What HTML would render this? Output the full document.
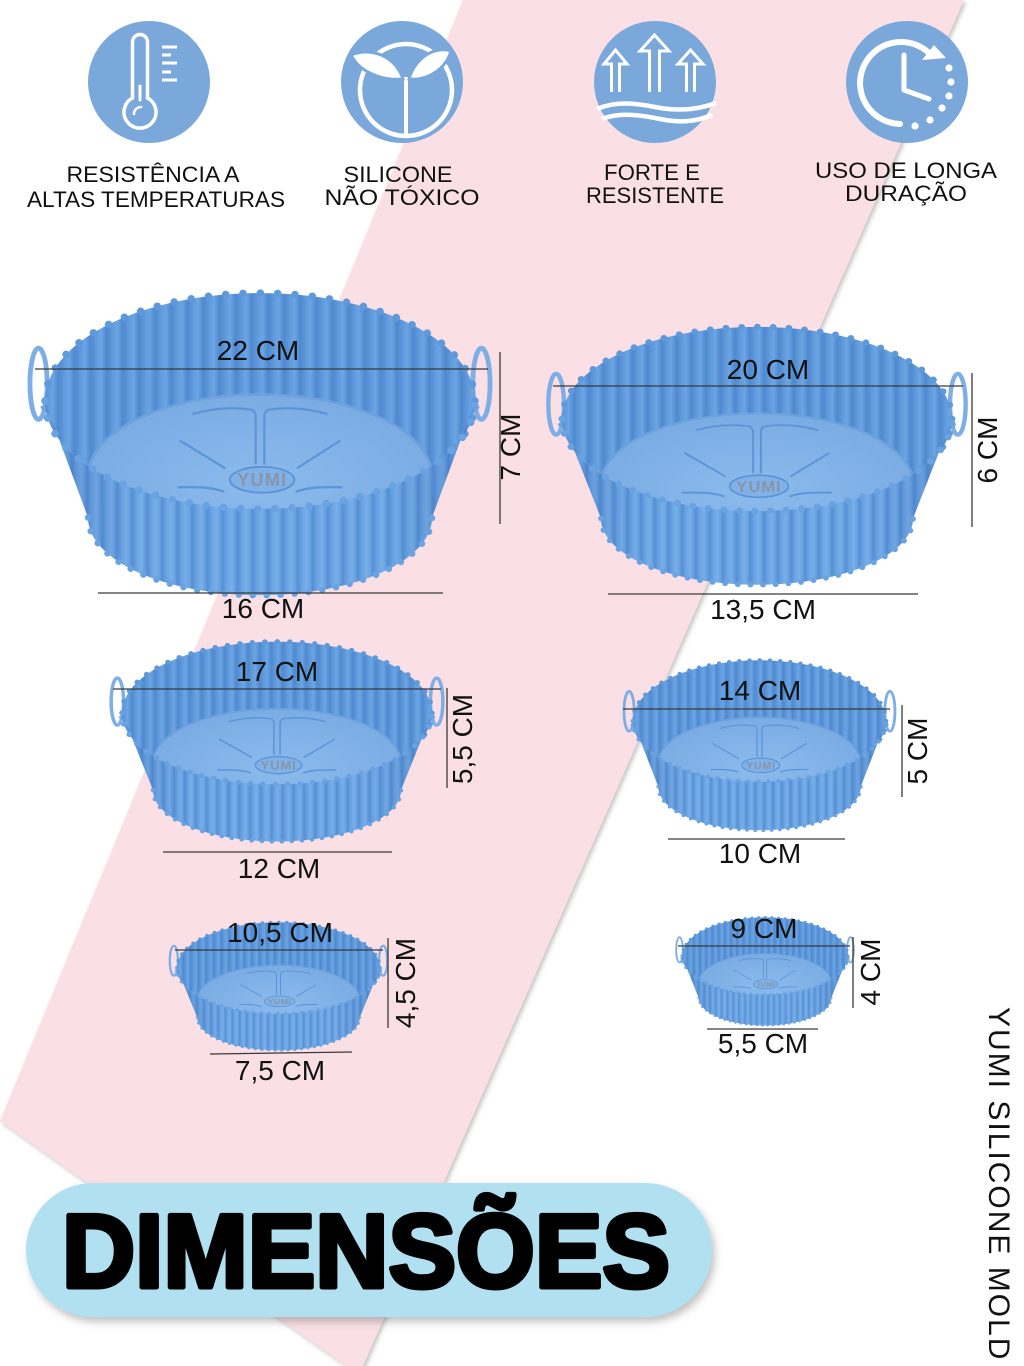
<!DOCTYPE html>
<html>
<head>
<meta charset="utf-8">
<style>
html,body{margin:0;padding:0;background:#fff;}
svg{display:block;}
</style>
</head>
<body>
<svg width="1024" height="1366" viewBox="0 0 1024 1366" xmlns="http://www.w3.org/2000/svg" font-family="'Liberation Sans', sans-serif">
<defs>
  <filter id="sh" x="-10%" y="-5%" width="120%" height="110%">
    <feDropShadow dx="2" dy="2" stdDeviation="2.5" flood-color="#777" flood-opacity="0.45"/>
  </filter>
  <filter id="psh" x="-10%" y="-20%" width="120%" height="150%">
    <feDropShadow dx="3" dy="5" stdDeviation="4" flood-color="#666" flood-opacity="0.4"/>
  </filter>
  <linearGradient id="fg" x1="0" x2="1" y1="0" y2="0">
    <stop offset="0" stop-color="#558fd5"/>
    <stop offset="0.3" stop-color="#6ba4e2"/>
    <stop offset="0.6" stop-color="#79afe9"/>
    <stop offset="0.85" stop-color="#67a1e0"/>
    <stop offset="1" stop-color="#558fd5"/>
  </linearGradient>
  <linearGradient id="bg" x1="0" x2="1" y1="0" y2="0">
    <stop offset="0" stop-color="#4e88cf"/>
    <stop offset="0.35" stop-color="#609adb"/>
    <stop offset="0.65" stop-color="#6ba5e3"/>
    <stop offset="1" stop-color="#4e88cf"/>
  </linearGradient>
  <pattern id="pf" patternUnits="userSpaceOnUse" x="-7" y="-200" width="14" height="500">
    <rect width="14" height="500" fill="url(#fg)"/>
  </pattern>
  <pattern id="pb" patternUnits="userSpaceOnUse" x="-7.5" y="-200" width="15" height="500">
    <rect width="15" height="500" fill="url(#bg)"/>
  </pattern>
  <radialGradient id="floorg" cx="0.5" cy="0.55" r="0.6">
    <stop offset="0" stop-color="#8cbaec"/>
    <stop offset="1" stop-color="#78abe3"/>
  </radialGradient>
  <linearGradient id="shade" x1="0" x2="1" y1="0" y2="0">
    <stop offset="0" stop-color="#1d4f9a" stop-opacity="0.25"/>
    <stop offset="0.22" stop-color="#1d4f9a" stop-opacity="0"/>
    <stop offset="0.78" stop-color="#1d4f9a" stop-opacity="0"/>
    <stop offset="1" stop-color="#1d4f9a" stop-opacity="0.25"/>
  </linearGradient>
  <clipPath id="rimclip"><ellipse cx="0" cy="0" rx="200" ry="100"/></clipPath>

  <g id="cup">
    <!-- handles -->
    <ellipse cx="-206" cy="-16" rx="8" ry="33" fill="none" stroke="#7eaee6" stroke-width="4.5"/>
    <ellipse cx="206" cy="-16" rx="8" ry="33" fill="none" stroke="#7eaee6" stroke-width="4.5"/>
    <path d="M-203,8 L-192,2 M203,8 L192,2" stroke="#6ea6e3" stroke-width="6"/>
    <!-- back wall -->
    <ellipse cx="0" cy="0" rx="200" ry="100" fill="url(#pb)"/>
    <ellipse cx="0" cy="0" rx="200" ry="100" fill="none" stroke="#5f99da" stroke-width="7" stroke-dasharray="0 16.15" stroke-linecap="round"/>
    <!-- floor -->
    <g clip-path="url(#rimclip)">
      <ellipse cx="0" cy="70" rx="160" ry="76" fill="url(#floorg)" stroke="#6ea2dd" stroke-width="2.5"/>
      <g fill="none" stroke="#5c94d7" stroke-width="2" stroke-linecap="round">
        <path d="M-62,12 Q-35,4 -8,8 Q-4,10 -4,14 V58"/>
        <path d="M62,12 Q35,4 8,8 Q4,10 4,14 V58"/>
        <path d="M-74,37 L-33,62"/>
        <path d="M74,37 L35,62"/>
        <path d="M-76,80 Q-45,79 -34,84"/>
        <path d="M76,80 Q45,79 34,84"/>
      </g>
      <ellipse cx="2" cy="73" rx="30" ry="12" fill="#80b1e7" stroke="#5c94d7" stroke-width="1.8"/>
      <text x="2" y="79" text-anchor="middle" font-size="17" font-weight="bold" fill="#8796aa" letter-spacing="1">YUMI</text>
    </g>
    <!-- front wall -->
    <path d="M-200,0 L-160,108 A160,72 0 0 0 160,108 L200,0 A200,100 0 0 1 -200,0 Z" fill="url(#pf)"/>
    <path d="M-200,0 L-160,108 A160,72 0 0 0 160,108 L200,0 A200,100 0 0 1 -200,0 Z" fill="url(#shade)"/>
    <path d="M-200,0 A200,100 0 0 0 200,0" fill="none" stroke="#6aa3e2" stroke-width="7" stroke-dasharray="0 16" stroke-linecap="round"/>
    <path d="M-160,108 A160,72 0 0 0 160,108" fill="none" stroke="#6aa3e2" stroke-width="6" stroke-dasharray="0 13" stroke-linecap="round"/>
  </g>
</defs>

<rect width="1024" height="1366" fill="#fff"/>
<!-- pink diagonal band -->
<polygon points="463,0 964,0 359,1375 0,1121" fill="#fae0e5" filter="url(#sh)"/>

<!-- ICONS -->
<g>
  <circle cx="149" cy="82" r="61" fill="#7aa8da"/>
  <circle cx="402" cy="82" r="61" fill="#7aa8da"/>
  <circle cx="655" cy="82" r="61" fill="#7aa8da"/>
  <circle cx="907" cy="82" r="61" fill="#7aa8da"/>

  <!-- thermometer -->
  <g fill="none" stroke="#fff" stroke-width="3.5" stroke-linecap="round">
    <path d="M132.5,98 V42 A7.5,7.5 0 0 1 147.5,42 V98"/>
    <path d="M147.5,98 A16,16 0 1 1 132.5,98"/>
    <path d="M140,86 V100" stroke-width="3"/>
    <path d="M134,114 A7,7 0 0 1 141,107" stroke-width="2.5"/>
    <path d="M162,47 H177 M162,55 H171 M162,63 H177 M162,72 H171 M162,80 H177" stroke-width="3" stroke-linecap="butt"/>
  </g>

  <!-- sprout -->
  <g>
    <circle cx="406" cy="90" r="46" fill="none" stroke="#fff" stroke-width="4.5"/>
    <path d="M406,77 V136" stroke="#fff" stroke-width="4"/>
    <path d="M403,79 C395,55 370,47 351,55 C359,71 380,81 403,79 Z" fill="#fff" stroke="#7aa8da" stroke-width="3"/>
    <path d="M409,79 C416,56 436,46 451,51 C446,68 429,81 409,79 Z" fill="#fff" stroke="#7aa8da" stroke-width="3"/>
  </g>

  <!-- arrows -->
  <g fill="none" stroke="#fff" stroke-width="3" stroke-linejoin="miter">
    <polyline points="611.5,92 611.5,64 604,64 615.5,50 627,64 619.5,64 619.5,92"/>
    <polyline points="649.5,92 649.5,51 640,51 654.5,35 669,51 659.5,51 659.5,92"/>
    <polyline points="686.5,92 686.5,64 678,64 690.5,50 703,64 694.5,64 694.5,92"/>
    <path d="M597,109 C615,101 635,103 655,107 S695,111 716,103" stroke-width="4.5"/>
    <path d="M602,119 C620,112 640,115 660,119 S695,122 712,115" stroke-width="4.5"/>
  </g>

  <!-- clock -->
  <g fill="none" stroke="#fff" stroke-linecap="round" stroke-linejoin="round">
    <path d="M929,53 A41,41 0 1 0 900,124" stroke-width="6"/>
    <path d="M904,55 V90 L929,99" stroke-width="5"/>
  </g>
  <polygon points="934,45 946,58 922,60" fill="#fff"/>
  <g fill="#fff">
    <circle cx="915" cy="126" r="3.6"/>
    <circle cx="930" cy="120" r="3.6"/>
    <circle cx="942" cy="108" r="3.6"/>
    <circle cx="949" cy="96" r="3.6"/>
    <circle cx="951" cy="82" r="3.6"/>
    <circle cx="949" cy="68" r="3.6"/>
  </g>
</g>

<!-- ICON LABELS -->
<g font-size="22" fill="#111" text-anchor="middle">
  <text x="153" y="182" textLength="173" lengthAdjust="spacingAndGlyphs">RESISTÊNCIA A</text>
  <text x="156" y="207" textLength="258" lengthAdjust="spacingAndGlyphs">ALTAS TEMPERATURAS</text>
  <text x="398" y="182" textLength="109" lengthAdjust="spacingAndGlyphs">SILICONE</text>
  <text x="402" y="205" textLength="155" lengthAdjust="spacingAndGlyphs">NÃO TÓXICO</text>
  <text x="652" y="180" textLength="96" lengthAdjust="spacingAndGlyphs">FORTE E</text>
  <text x="655" y="203" textLength="138" lengthAdjust="spacingAndGlyphs">RESISTENTE</text>
  <text x="906" y="178" textLength="182" lengthAdjust="spacingAndGlyphs">USO DE LONGA</text>
  <text x="906" y="201" textLength="122" lengthAdjust="spacingAndGlyphs">DURAÇÃO</text>
</g>

<!-- CUPS -->
<use href="#cup" transform="translate(260,401) scale(1.075,1.079)"/>
<use href="#cup" transform="translate(757,419) scale(0.975,0.921)"/>
<use href="#cup" transform="translate(277,713) scale(0.775,0.714)"/>
<use href="#cup" transform="translate(278.5,968) scale(0.508,0.457)"/>
<use href="#cup" transform="translate(759.5,721) scale(0.633,0.607)"/>
<use href="#cup" transform="translate(765,956) scale(0.415,0.386)"/>

<!-- MEASUREMENT LINES -->
<g stroke="#3a3a3a" stroke-width="1.3">
  <line x1="35" y1="369" x2="488" y2="369"/>
  <line x1="500" y1="352" x2="500" y2="524"/>
  <line x1="98" y1="593" x2="443" y2="593"/>

  <line x1="553" y1="386" x2="963" y2="386"/>
  <line x1="972" y1="373" x2="972" y2="527"/>
  <line x1="608" y1="594" x2="918" y2="594"/>

  <line x1="113" y1="689" x2="441" y2="689"/>
  <line x1="447" y1="688" x2="447" y2="788"/>
  <line x1="163" y1="852" x2="392" y2="852"/>

  <line x1="175" y1="950" x2="383" y2="950"/>
  <line x1="388" y1="938" x2="388" y2="1028"/>
  <line x1="210" y1="1054" x2="352" y2="1052"/>

  <line x1="623" y1="709" x2="890" y2="709"/>
  <line x1="902" y1="705" x2="902" y2="797"/>
  <line x1="668" y1="839" x2="845" y2="839"/>

  <line x1="678" y1="946" x2="850" y2="946"/>
  <line x1="853" y1="937" x2="853" y2="1008"/>
  <line x1="707" y1="1029" x2="818" y2="1029"/>
</g>

<!-- MEASUREMENT LABELS -->
<g font-size="28" fill="#111" text-anchor="middle">
  <text x="258" y="360">22 CM</text>
  <text x="263" y="618">16 CM</text>
  <text transform="translate(520,447) rotate(-90)">7 CM</text>

  <text x="768" y="379">20 CM</text>
  <text x="763" y="619">13,5 CM</text>
  <text transform="translate(997,450) rotate(-90)">6 CM</text>

  <text x="277" y="681">17 CM</text>
  <text x="279" y="878">12 CM</text>
  <text transform="translate(472,739) rotate(-90)">5,5 CM</text>

  <text x="280" y="942">10,5 CM</text>
  <text x="280" y="1080">7,5 CM</text>
  <text transform="translate(415,983) rotate(-90)">4,5 CM</text>

  <text x="760" y="700">14 CM</text>
  <text x="760" y="863">10 CM</text>
  <text transform="translate(927,751) rotate(-90)">5 CM</text>

  <text x="764" y="938">9 CM</text>
  <text x="763" y="1053">5,5 CM</text>
  <text transform="translate(880,972) rotate(-90)">4 CM</text>
</g>

<!-- DIMENSÕES pill -->
<rect x="26" y="1183" width="686" height="134" rx="67" ry="67" fill="#b1e1f1" filter="url(#psh)"/>
<text x="366" y="1287" text-anchor="middle" font-size="104" font-weight="bold" fill="#000" stroke="#000" stroke-width="5" stroke-linejoin="round" textLength="608" lengthAdjust="spacingAndGlyphs">DIMENSÕES</text>

<!-- vertical brand text -->
<text transform="translate(989,1007) rotate(90)" font-size="30" fill="#111" letter-spacing="2">YUMI SILICONE MOLD</text>
</svg>
</body>
</html>
